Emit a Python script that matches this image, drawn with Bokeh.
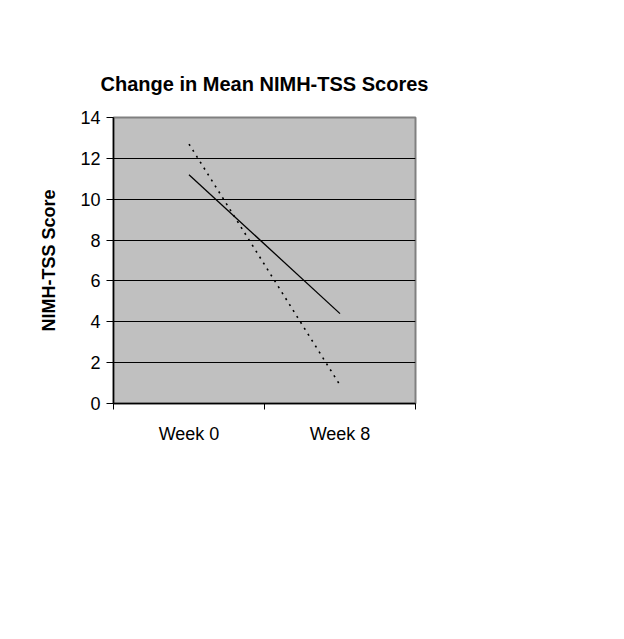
from bokeh.plotting import figure
from bokeh.models import (Range1d, LinearAxis, FixedTicker,
                          Label, BoxAnnotation, PolyAnnotation, Arrow, Grid)
from bokeh.embed import file_html
from bokeh.resources import INLINE
import math

# ---- data ----
weeks = ["Week 0", "Week 8"]
under9 = [12.7, 0.9]
over10 = [11.2, 4.4]
y_ticks = [0, 2, 4, 6, 8, 10, 12, 14]
legend_under9 = ["Children <", "Age 9"]
legend_over10 = ["Children >", "Age 10"]
title_text = "Change in Mean NIMH-TSS Scores"
y_label = "NIMH-TSS Score"
caption_bold = "Figure 2 Change in Mean NIMH-TSS Scores"
caption_lines = [
    ". This figure represents",
    "the mean change in NIMH-TSS scores from week 0 to week 8 for those",
    "participants randomized to BT; the figure represents the difference be-",
    "tween mean changes among the participants who were age 9 or",
    "younger and participants were age 10 or older.",
]

# category slots (Excel-style: categories centred between boundary ticks)
n = len(weeks)
cat_pos = [i + 0.5 for i in range(n)]
bounds = list(range(n + 1))

# ---- layout (page pixels) ----
W, H, M = 616, 631, 8
FL, FR, FT, FB = 121, 423, 125, 411
AX_FONT = "Liberation Sans"
CAP_FONT = "Lato"

p = figure(width=W, height=H, x_range=Range1d(0, n), y_range=Range1d(0, 14),
           output_backend="svg", toolbar_location=None,
           x_axis_location=None, y_axis_location=None,
           min_border_left=FL - M, min_border_right=W - (FR - M),
           min_border_top=FT - M, min_border_bottom=H - (FB - M))
p.extra_x_ranges = {"px": Range1d(FL, FR)}
p.extra_y_ranges = {"py": Range1d(FB, FT)}
p.grid.visible = False
p.background_fill_color = "#c0c0c0"
p.border_fill_color = "white"
p.outline_line_color = "#808080"
p.outline_line_width = 2

# y axis
yaxis = LinearAxis(ticker=FixedTicker(ticks=y_ticks), axis_label=y_label,
                   axis_line_color="black", axis_line_width=1.5,
                   major_tick_line_color="black", major_tick_out=7, major_tick_in=0,
                   minor_tick_line_color=None, major_label_standoff=6,
                   major_label_text_font=AX_FONT, major_label_text_font_size="18px",
                   major_label_text_color="black",
                   axis_label_text_font=AX_FONT, axis_label_text_font_size="18px",
                   axis_label_text_font_style="bold", axis_label_text_color="black",
                   axis_label_standoff=18)
p.add_layout(yaxis, "left")

# boundary ticks (category separators)
bax = LinearAxis(ticker=FixedTicker(ticks=bounds),
                 axis_line_color="black", axis_line_width=1.5,
                 major_tick_line_color="black", major_tick_out=6, major_tick_in=0,
                 minor_tick_line_color=None, major_label_standoff=0,
                 major_label_overrides={b: "" for b in bounds},
                 major_label_text_font_size="1px")
p.add_layout(bax, "below")

# category labels
xaxis = LinearAxis(ticker=FixedTicker(ticks=cat_pos),
                   major_label_overrides={c: w for c, w in zip(cat_pos, weeks)},
                   axis_line_color=None, major_tick_line_color=None,
                   minor_tick_line_color=None, major_label_standoff=8,
                   major_label_text_font=AX_FONT, major_label_text_font_size="18px",
                   major_label_text_color="black")
p.add_layout(xaxis, "below")

p.add_layout(Grid(dimension=1, ticker=FixedTicker(ticks=y_ticks[1:-1]),
                  grid_line_color="black", grid_line_width=1))

# series
p.line(x=cat_pos, y=under9, line_color="black", line_width=1.6, line_dash="2 5")
p.line(x=cat_pos, y=over10, line_color="black", line_width=1.3)

# title
p.title.text = title_text
p.title.align = "center"
p.title.text_font = AX_FONT
p.title.text_font_size = "20px"
p.title.text_font_style = "bold"
p.title.text_color = "black"
p.title.standoff = 45

R = dict(x_range_name="px", y_range_name="py")

# outer rounded frame (top-left corner)
cx, cy, r = 21, 22, 12
arc_x = [cx - r * math.cos(math.radians(a)) for a in range(0, 91, 10)]
arc_y = [cy - r * math.sin(math.radians(a)) for a in range(0, 91, 10)]
p.add_layout(PolyAnnotation(xs=[9] + arc_x + [800, 800], ys=[800] + arc_y + [10, 800],
                            fill_alpha=0, line_color="#a8a8a8", line_width=2, **R))

# chart box
p.add_layout(BoxAnnotation(left=27, right=613, top=32, bottom=474, fill_alpha=0,
                           line_color="#111111", line_width=2, **R))

# legend
p.add_layout(BoxAnnotation(left=440, right=607, top=211, bottom=325, fill_color="white",
                           fill_alpha=1, line_color="black", line_width=1, **R))
p.add_layout(Arrow(end=None, x_start=447, y_start=228, x_end=507, y_end=228,
                   line_color="black", line_width=1.6, line_dash="2 5", **R))
p.add_layout(Arrow(end=None, x_start=447, y_start=286, x_end=507, y_end=286,
                   line_color="black", line_width=1.3, **R))
for txt, yy in zip(legend_under9 + legend_over10, [228, 255, 286, 311]):
    p.add_layout(Label(x=510, y=yy, text=txt, text_align="left", text_baseline="middle",
                       text_font=AX_FONT, text_font_size="18px", text_color="black", **R))

# caption
cap_y = [508, 537, 566, 594, 622]
p.add_layout(Label(x=23, y=cap_y[0], text=caption_bold, text_align="left", text_baseline="middle",
                   text_font=CAP_FONT, text_font_size="17px", text_font_style="bold",
                   text_color="#111111", **R))
p.add_layout(Label(x=334, y=cap_y[0], text=caption_lines[0], text_align="left", text_baseline="middle",
                   text_font=CAP_FONT, text_font_size="17px", text_color="#111111", **R))
for txt, yy in zip(caption_lines[1:], cap_y[1:]):
    p.add_layout(Label(x=23, y=yy, text=txt, text_align="left", text_baseline="middle",
                       text_font=CAP_FONT, text_font_size="17px", text_color="#111111", **R))

open("out.html", "w").write(file_html(p, INLINE))
